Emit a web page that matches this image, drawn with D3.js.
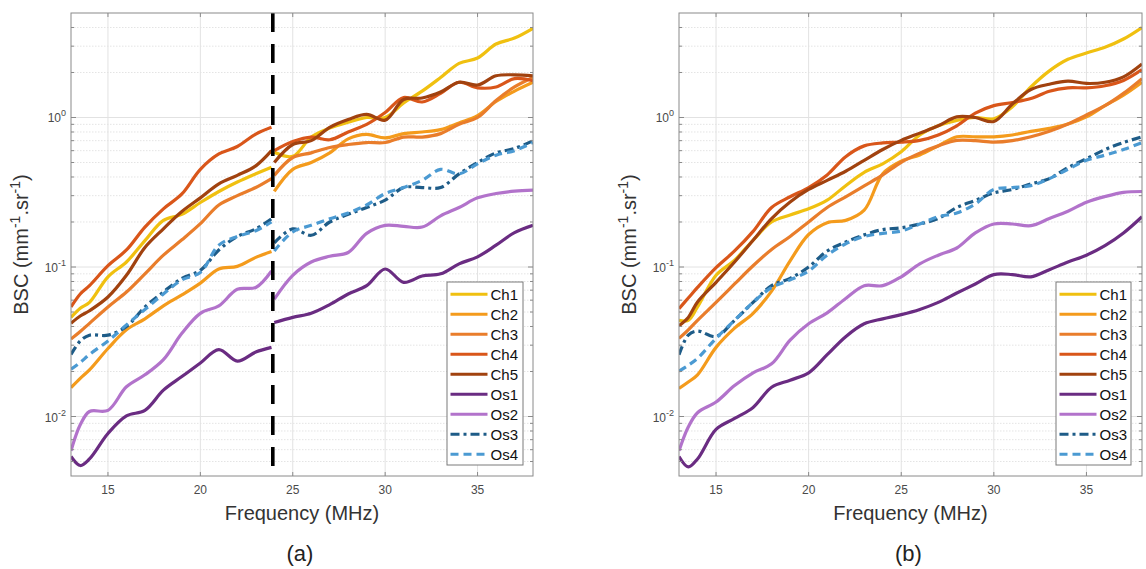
<!DOCTYPE html>
<html><head><meta charset="utf-8">
<script src="https://cdn.jsdelivr.net/npm/d3@7"></script>
<style>body{margin:0;background:#fff} svg{display:block;font-family:"Liberation Sans",Arial,sans-serif}</style>
</head><body><svg id="chart" width="1146" height="569"></svg>
<script>
// ---------------- data ----------------
const seriesNames = ["Ch1","Ch2","Ch3","Ch4","Ch5","Os1","Os2","Os3","Os4"];
const seriesColors = ["#F0C010","#F49B1C","#E97D2B","#D9561A","#A1420F","#6A2C82","#B273CB","#1E5C88","#4B9AD2"];
const seriesDash = [null,null,null,null,null,null,null,"9,4,3,4","8,5"];
const xTicks = [15,20,25,30,35];
const yTicks = [0.01,0.1,1];
const yTickExps = ["-2","-1","0"];
const panelLabels = ["(a)","(b)"];
const splitFreq = 23.92;

// panel (a), low band
const freqA1 = [13,13.5,14,15,16,17,18,19,20,21,22,23,23.85];
const a1Ch1 = [0.046,0.053,0.058,0.086,0.108,0.15,0.205,0.225,0.27,0.32,0.37,0.42,0.465];
const a1Ch2 = [0.0156,0.018,0.0205,0.0285,0.038,0.045,0.055,0.065,0.078,0.097,0.101,0.116,0.127];
const a1Ch3 = [0.033,0.037,0.042,0.054,0.068,0.09,0.12,0.152,0.195,0.26,0.3,0.34,0.39];
const a1Ch4 = [0.054,0.066,0.075,0.102,0.13,0.185,0.245,0.308,0.45,0.57,0.64,0.775,0.86];
const a1Ch5 = [0.042,0.047,0.051,0.063,0.088,0.135,0.18,0.235,0.29,0.36,0.41,0.475,0.6];
const a1Os1 = [0.0054,0.0047,0.0052,0.0077,0.0101,0.011,0.015,0.0185,0.0228,0.028,0.0235,0.027,0.029];
const a1Os2 = [0.0059,0.0088,0.0108,0.011,0.0158,0.019,0.024,0.036,0.049,0.055,0.071,0.073,0.094];
const a1Os3 = [0.026,0.032,0.035,0.035,0.04,0.054,0.068,0.084,0.095,0.13,0.16,0.18,0.21];
const a1Os4 = [0.0207,0.023,0.026,0.032,0.041,0.052,0.066,0.082,0.092,0.14,0.16,0.175,0.2];

// panel (a), high band
const freqA2 = [24,25,26,27,28,29,30,31,32,33,34,35,36,37,38];
const a2Ch1 = [0.585,0.55,0.74,0.85,0.93,1.0,1.0,1.25,1.5,1.85,2.3,2.5,3.1,3.4,3.95];
const a2Ch2 = [0.32,0.45,0.5,0.58,0.72,0.77,0.73,0.78,0.8,0.83,0.92,1.03,1.28,1.5,1.72];
const a2Ch3 = [0.41,0.54,0.58,0.63,0.66,0.68,0.68,0.74,0.74,0.78,0.9,1.0,1.3,1.6,1.85];
const a2Ch4 = [0.6,0.69,0.74,0.71,0.8,0.9,1.08,1.36,1.27,1.45,1.72,1.58,1.6,1.82,1.76];
const a2Ch5 = [0.5,0.66,0.7,0.86,0.97,1.05,0.96,1.32,1.35,1.48,1.72,1.65,1.9,1.93,1.9];
const a2Os1 = [0.0425,0.046,0.049,0.056,0.066,0.075,0.097,0.079,0.087,0.09,0.105,0.117,0.14,0.17,0.19];
const a2Os2 = [0.061,0.088,0.108,0.118,0.125,0.168,0.19,0.187,0.185,0.22,0.25,0.29,0.31,0.322,0.327];
const a2Os3 = [0.145,0.18,0.163,0.2,0.225,0.25,0.28,0.34,0.34,0.34,0.42,0.5,0.58,0.62,0.7];
const a2Os4 = [0.128,0.172,0.19,0.21,0.23,0.26,0.31,0.34,0.38,0.45,0.42,0.49,0.56,0.6,0.68];

// panel (b)
const freqB = [13,13.5,14,15,16,17,18,19,20,21,22,23,24,25,26,27,28,29,30,31,32,33,34,35,36,37,38];
const bCh1 = [0.044,0.044,0.054,0.088,0.111,0.151,0.2,0.223,0.245,0.28,0.35,0.43,0.49,0.59,0.764,0.88,0.957,1.0,0.98,1.18,1.6,2.05,2.45,2.7,2.95,3.35,4.0];
const bCh2 = [0.0154,0.017,0.019,0.029,0.039,0.049,0.069,0.11,0.165,0.198,0.205,0.24,0.42,0.51,0.562,0.646,0.743,0.743,0.743,0.764,0.808,0.846,0.904,1.01,1.2,1.41,1.72];
const bCh3 = [0.0333,0.038,0.044,0.058,0.077,0.102,0.131,0.16,0.2,0.25,0.295,0.349,0.413,0.502,0.578,0.646,0.703,0.70,0.684,0.70,0.743,0.808,0.904,1.04,1.2,1.45,1.82];
const bCh4 = [0.0527,0.062,0.073,0.099,0.128,0.173,0.25,0.295,0.34,0.413,0.547,0.646,0.676,0.684,0.703,0.764,0.88,1.07,1.2,1.26,1.34,1.5,1.58,1.58,1.63,1.77,2.09];
const bCh5 = [0.0405,0.046,0.0583,0.079,0.108,0.151,0.211,0.272,0.33,0.38,0.437,0.517,0.611,0.703,0.786,0.88,1.01,1.0,0.94,1.23,1.54,1.67,1.75,1.69,1.72,1.87,2.28];
const bOs1 = [0.0054,0.0046,0.0052,0.0082,0.0097,0.0115,0.0157,0.0175,0.0196,0.0259,0.0342,0.0417,0.045,0.048,0.052,0.058,0.067,0.077,0.089,0.089,0.086,0.096,0.108,0.12,0.139,0.169,0.217];
const bOs2 = [0.0059,0.0085,0.0106,0.0125,0.0161,0.0196,0.0225,0.0324,0.0417,0.0493,0.0616,0.075,0.075,0.086,0.105,0.12,0.134,0.169,0.194,0.194,0.189,0.211,0.236,0.271,0.296,0.316,0.32];
const bOs3 = [0.0259,0.035,0.0373,0.0343,0.044,0.058,0.075,0.084,0.1,0.128,0.147,0.164,0.178,0.183,0.194,0.211,0.25,0.279,0.313,0.33,0.359,0.39,0.462,0.53,0.61,0.68,0.743];
const bOs4 = [0.0201,0.022,0.0245,0.0333,0.044,0.058,0.073,0.082,0.094,0.12,0.143,0.16,0.168,0.174,0.194,0.217,0.23,0.264,0.33,0.34,0.35,0.39,0.45,0.517,0.56,0.61,0.68];

// ---------------- drawing ----------------
const svg = d3.select("#chart");

const panels = [
  {left:71, right:533, top:13, bottom:476, label:panelLabels[0], split:true,
   legend:{x:447, y:282, w:76, h:183},
   segments:[
     {freq:freqA1, vals:[a1Ch1,a1Ch2,a1Ch3,a1Ch4,a1Ch5,a1Os1,a1Os2,a1Os3,a1Os4]},
     {freq:freqA2, vals:[a2Ch1,a2Ch2,a2Ch3,a2Ch4,a2Ch5,a2Os1,a2Os2,a2Os3,a2Os4]}]},
  {left:679, right:1142, top:13, bottom:476, label:panelLabels[1], split:false,
   legend:{x:1056, y:282, w:75, h:183},
   segments:[
     {freq:freqB, vals:[bCh1,bCh2,bCh3,bCh4,bCh5,bOs1,bOs2,bOs3,bOs4]}]}
];

panels.forEach((p, pi) => {
  const x = d3.scaleLinear().domain([13,38]).range([p.left, p.right]);
  const y = d3.scaleLog().domain([0.004,5]).range([p.bottom, p.top]);
  const g = svg.append("g");

  // minor y grid
  const minor = [];
  for (let e = -3; e <= 0; e++) for (let k = 2; k <= 9; k++) {
    const v = k * Math.pow(10, e);
    if (v > 0.004 && v < 5) minor.push(v);
  }
  g.selectAll(".mg").data(minor).enter().append("line")
    .attr("x1", p.left).attr("x2", p.right)
    .attr("y1", d => y(d)).attr("y2", d => y(d))
    .attr("stroke", "#e4e4e4").attr("stroke-width", 1).attr("stroke-dasharray", "1.5,1.5");
  // major grid
  g.selectAll(".gy").data(yTicks).enter().append("line")
    .attr("x1", p.left).attr("x2", p.right)
    .attr("y1", d => y(d)).attr("y2", d => y(d))
    .attr("stroke", "#e2e2e2").attr("stroke-width", 1);
  g.selectAll(".gx").data(xTicks).enter().append("line")
    .attr("x1", d => x(d)).attr("x2", d => x(d))
    .attr("y1", p.top).attr("y2", p.bottom)
    .attr("stroke", "#e2e2e2").attr("stroke-width", 1);

  // clip
  const cid = "clip" + pi;
  svg.append("defs").append("clipPath").attr("id", cid)
    .append("rect").attr("x", p.left).attr("y", p.top)
    .attr("width", p.right - p.left).attr("height", p.bottom - p.top);
  const plot = g.append("g").attr("clip-path", `url(#${cid})`);

  const line = d3.line().x(d => x(d[0])).y(d => y(d[1])).curve(d3.curveCatmullRom.alpha(0.5));
  p.segments.forEach(seg => {
    seriesNames.forEach((name, si) => {
      const pts = seg.freq.map((f, i) => [f, seg.vals[si][i]]);
      plot.append("path").datum(pts).attr("d", line)
        .attr("fill", "none").attr("stroke", seriesColors[si])
        .attr("stroke-width", 3.2).attr("stroke-linejoin", "round")
        .attr("stroke-dasharray", seriesDash[si]);
    });
  });

  if (p.split) {
    g.append("line").attr("x1", x(splitFreq)).attr("x2", x(splitFreq))
      .attr("y1", p.top).attr("y2", p.bottom)
      .attr("stroke", "#000").attr("stroke-width", 3.6).attr("stroke-dasharray", "19,12");
  }

  // box
  g.append("rect").attr("x", p.left).attr("y", p.top)
    .attr("width", p.right - p.left).attr("height", p.bottom - p.top)
    .attr("fill", "none").attr("stroke", "#8a8a8a").attr("stroke-width", 1);

  // ticks (inward)
  const tk = g.append("g").attr("stroke", "#8a8a8a").attr("stroke-width", 1);
  xTicks.forEach(t => {
    tk.append("line").attr("x1", x(t)).attr("x2", x(t)).attr("y1", p.bottom).attr("y2", p.bottom - 4);
    tk.append("line").attr("x1", x(t)).attr("x2", x(t)).attr("y1", p.top).attr("y2", p.top + 4);
  });
  yTicks.forEach(t => {
    tk.append("line").attr("x1", p.left).attr("x2", p.left + 5).attr("y1", y(t)).attr("y2", y(t));
    tk.append("line").attr("x1", p.right).attr("x2", p.right - 5).attr("y1", y(t)).attr("y2", y(t));
  });
  minor.forEach(t => {
    tk.append("line").attr("x1", p.left).attr("x2", p.left + 3).attr("y1", y(t)).attr("y2", y(t));
    tk.append("line").attr("x1", p.right).attr("x2", p.right - 3).attr("y1", y(t)).attr("y2", y(t));
  });

  // tick labels
  g.selectAll(".xl").data(xTicks).enter().append("text")
    .attr("x", d => x(d)).attr("y", p.bottom + 18)
    .attr("text-anchor", "middle").attr("font-size", 12).attr("fill", "#4a4a4a")
    .text(d => d);
  yTicks.forEach((t, i) => {
    const tx = g.append("text").attr("x", p.left - 5).attr("y", y(t) + 5)
      .attr("text-anchor", "end").attr("font-size", 12).attr("fill", "#4a4a4a");
    tx.append("tspan").text("10");
    tx.append("tspan").attr("dy", -6).attr("font-size", 9).text(yTickExps[i]);
  });

  // axis titles
  const cx = (p.left + p.right) / 2, cy = (p.top + p.bottom) / 2;
  g.append("text").attr("x", cx).attr("y", p.bottom + 44)
    .attr("text-anchor", "middle").attr("font-size", 20).attr("fill", "#333")
    .text("Frequency (MHz)");
  const yl = g.append("text")
    .attr("transform", `translate(${p.left - 43},${cy}) rotate(-90)`)
    .attr("text-anchor", "middle").attr("font-size", 20).attr("fill", "#333");
  yl.append("tspan").text("BSC (mm");
  yl.append("tspan").attr("dy", -8).attr("font-size", 14).text("-1");
  yl.append("tspan").attr("dy", 8).text(".sr");
  yl.append("tspan").attr("dy", -8).attr("font-size", 14).text("-1");
  yl.append("tspan").attr("dy", 8).text(")");

  // panel label
  g.append("text").attr("x", cx - 2).attr("y", 561)
    .attr("text-anchor", "middle").attr("font-size", 22).attr("fill", "#222")
    .text(p.label);

  // legend
  const L = p.legend;
  g.append("rect").attr("x", L.x).attr("y", L.y).attr("width", L.w).attr("height", L.h)
    .attr("fill", "#fff").attr("stroke", "#7a7a7a").attr("stroke-width", 1);
  seriesNames.forEach((name, si) => {
    const ry = L.y + 12.3 + si * 20;
    g.append("line").attr("x1", L.x + 3.5).attr("x2", L.x + 40.5)
      .attr("y1", ry).attr("y2", ry)
      .attr("stroke", seriesColors[si]).attr("stroke-width", 3)
      .attr("stroke-dasharray", seriesDash[si]);
    g.append("text").attr("x", L.x + 43.5).attr("y", ry + 5.5)
      .attr("font-size", 15).attr("fill", "#111").text(name);
  });
});
</script>
</body></html>
